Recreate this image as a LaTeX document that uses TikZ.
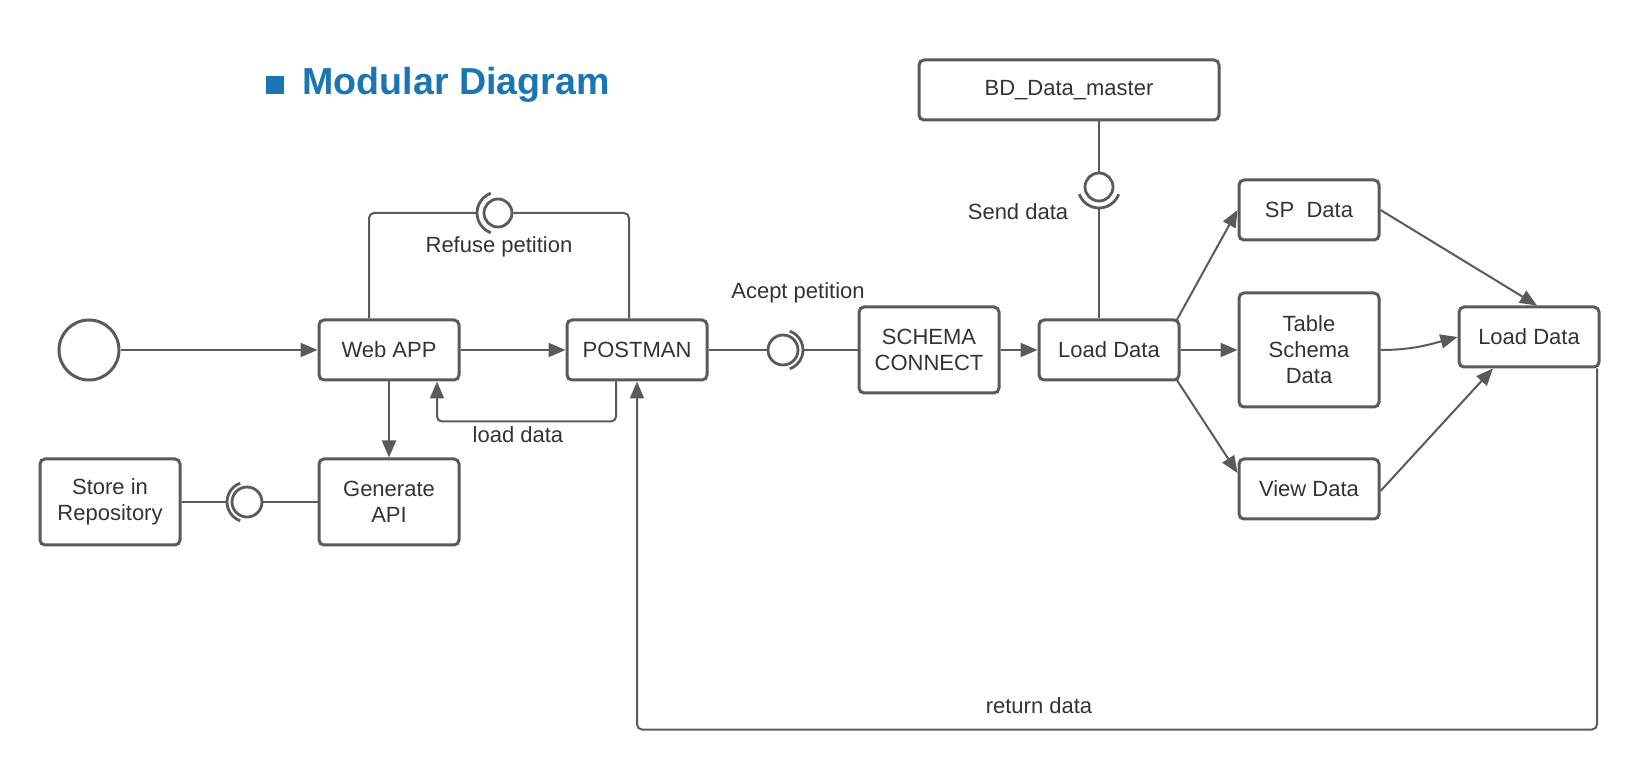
\documentclass[tikz,border=0pt]{standalone}
\usepackage{fontspec}
\setmainfont{Liberation Sans}
\usepackage{xcolor}
\usepackage{tikz}
\usetikzlibrary{arrows.meta,calc}
\definecolor{ink}{HTML}{333333}
\definecolor{wire}{HTML}{5A5A5A}
\definecolor{heading}{HTML}{1B75B5}
\tikzset{
  box/.style={draw=wire, line width=1.5pt, rounded corners=2.5pt, align=center,
    minimum width=70pt, minimum height=30pt, inner sep=2pt},
  conn/.style={draw=wire, line width=1pt},
  flow/.style={conn, -{Triangle[length=8.5pt,width=7pt]}},
  ball/.style={circle, draw=wire, line width=1.4pt, minimum size=14pt, inner sep=0pt},
  sock/.style={draw=wire, line width=1.4pt},
  lab/.style={font=\fontsize{11}{13}\selectfont},
  every node/.style={text=ink, font=\fontsize{11}{13}\selectfont}
}

\begin{document}
\begin{tikzpicture}[x=0.5pt, y=-0.5pt]
  \useasboundingbox (0,0) rectangle (1639,780);

  % title
  \fill[heading] (266,76) rectangle (284,94);
  \node[anchor=west, inner sep=0pt, text=heading, font=\fontsize{18.8}{21}\selectfont\bfseries] (title) at (302,85) {Modular Diagram};

  % modules
  \node[circle, draw=wire, line width=1.5pt, minimum size=30pt, inner sep=0pt] (start) at (89,350) {};
  \node[box] (webapp) at (389,350) {Web APP};
  \node[box] (postman) at (637,350) {POSTMAN};
  \node[box, minimum height=43pt] (generate) at (389,502) {Generate\\API};
  \node[box, minimum height=43pt] (store) at (110,502) {Store in\\Repository};
  \node[box, minimum height=43pt] (schema) at (929,350) {SCHEMA\\CONNECT};
  \node[box] (loada) at (1109,350) {Load Data};
  \node[box, minimum width=150pt] (bd) at (1069,90) {BD\_Data\_master};
  \node[box] (sp) at (1309,210) {SP~~Data};
  \node[box, minimum height=57pt] (table) at (1309,350) {Table\\Schema\\Data};
  \node[box] (view) at (1309,489) {View Data};
  \node[box] (loadb) at (1529,337) {Load Data};

  % interfaces
  \node[ball] (refball) at (498,213) {};
  \draw[sock] ([shift={(110:10.5pt)}]refball.center) arc[start angle=110, end angle=250, radius=10.5pt];
  \coordinate (refarc) at ([xshift=-10.5pt]refball.center);

  \node[ball, minimum size=15pt] (repoball) at (247,502) {};
  \draw[sock] ([shift={(110:10pt)}]repoball.center) arc[start angle=110, end angle=250, radius=10pt];
  \coordinate (repoarc) at ([xshift=-10pt]repoball.center);

  \node[ball, minimum size=15pt] (accball) at (783,350) {};
  \draw[sock] ([shift={(70:10pt)}]accball.center) arc[start angle=70, end angle=-70, radius=10pt];
  \coordinate (accarc) at ([xshift=10pt]accball.center);

  \node[ball] (sendball) at (1099,187) {};
  \draw[sock] ([shift={(200:10.5pt)}]sendball.center) arc[start angle=200, end angle=340, radius=10.5pt];
  \coordinate (sendarc) at ([yshift=-10.5pt]sendball.center);

  % connectors
  \draw[flow] (start) -- (webapp);
  \draw[flow] (webapp) -- (postman);
  \draw[flow] (webapp) -- (generate);
  \draw[conn, rounded corners=2.5pt] ([xshift=-10pt]webapp.north) |- (refarc);
  \draw[conn, rounded corners=2.5pt] (refball.east) -| ([xshift=-4pt]postman.north);
  \draw[flow, rounded corners=2.5pt] ([xshift=-10.5pt]postman.south) -- ++(0,-20pt) -| ([xshift=24pt]webapp.south);
  \draw[conn] (store.east) -- (repoarc);
  \draw[conn] (repoball.east) -- (generate.west);
  \draw[conn] (postman.east) -- (accball.west);
  \draw[conn] (accarc) -- (schema.west);
  \draw[flow] (schema) -- (loada);
  \draw[conn] (bd.south -| sendball) -- (sendball.north);
  \draw[conn] (sendarc) -- (sendarc |- loada.north);
  \draw[flow] ([xshift=-2pt,yshift=-1pt]loada.north east) -- (sp.west);
  \draw[flow] (loada) -- (table);
  \draw[flow] ([xshift=-2pt,yshift=1pt]loada.south east) -- ([yshift=8pt]view.west);
  \draw[flow] (sp.east) -- ([xshift=4pt]loadb.north);
  \draw[flow] (table.east) to[out=0, in=195] (loadb.west);
  \draw[flow] ([yshift=-1pt]view.east) -- ([xshift=-18pt]loadb.south);
  \draw[flow, rounded corners=2.5pt] ([xshift=34pt]loadb.south) -- ++(0,-180.5pt) -| (postman.south);

  % labels
  \node[lab] (refuse) at (499,247) {Refuse petition};
  \node[lab] (loaddata) at (518,435) {load data};
  \node[lab] (acept) at (798,293) {Acept petition};
  \node[lab] (send) at (1018,212) {Send data};
  \node[lab] (ret) at (1039,706) {return data};
\end{tikzpicture}
\end{document}
